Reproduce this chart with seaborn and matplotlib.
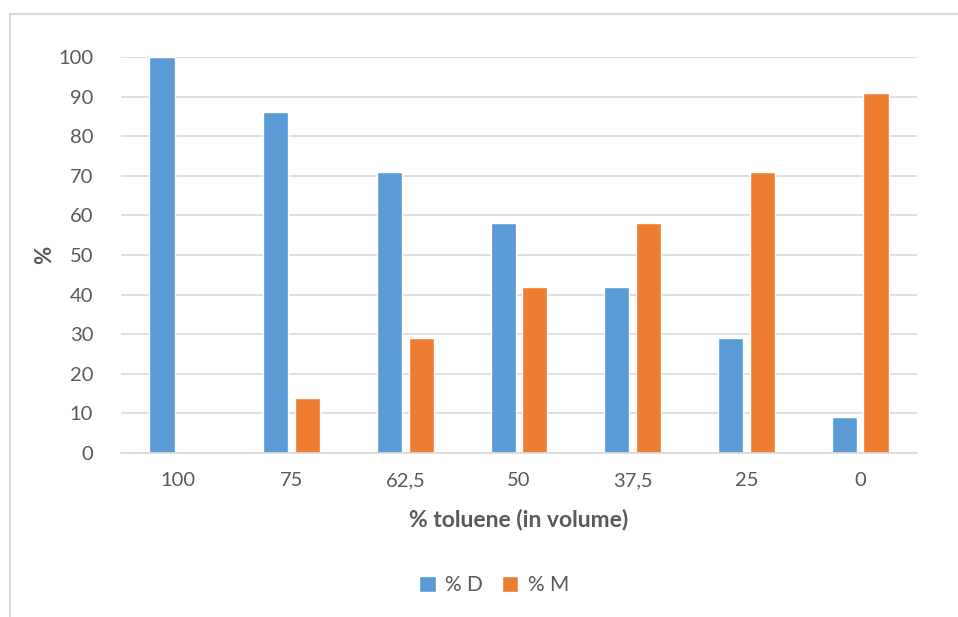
import matplotlib
matplotlib.use("Agg")
import matplotlib.pyplot as plt
from matplotlib.lines import Line2D
from matplotlib.patches import Patch
import seaborn as sns
import pandas as pd

categories = ["100", "75", "62,5", "50", "37,5", "25", "0"]
pct_d = [100, 86, 71, 58, 42, 29, 9]
pct_m = [0, 14, 29, 42, 58, 71, 91]
series_names = ["% D", "% M"]
y_ticks = [0, 10, 20, 30, 40, 50, 60, 70, 80, 90, 100]

BLUE = "#5B9BD5"
ORANGE = "#ED7D31"
GRID = "#D9D9D9"
TEXT = "#595959"

df = pd.DataFrame({
    "toluene": categories * 2,
    "value": pct_d + pct_m,
    "series": [series_names[0]] * len(categories) + [series_names[1]] * len(categories),
})

sns.set_theme(style="white")
plt.rcParams["font.family"] = ["Lato", "DejaVu Sans"]

fig = plt.figure(figsize=(9.58, 6.17), dpi=100)
ax = fig.add_axes([121 / 958, 1 - 453 / 617, (917 - 121) / 958, (453 - 57) / 617])

sns.barplot(data=df, x="toluene", y="value", hue="series", order=categories,
            palette=[BLUE, ORANGE], width=0.56, gap=0.21, ax=ax,
            legend=False, saturation=1, errorbar=None)

ax.set_ylim(0, 100)
ax.set_xlim(-0.5, len(categories) - 0.5)
ax.set_yticks(y_ticks)
ax.set_yticklabels([str(t) for t in y_ticks])
ax.yaxis.grid(True, color=GRID, linewidth=1.2)
ax.set_axisbelow(True)
for side in ["top", "right", "left"]:
    ax.spines[side].set_visible(False)
ax.spines["bottom"].set_color(GRID)
ax.spines["bottom"].set_linewidth(1.2)
ax.tick_params(axis="both", length=0, labelsize=14.5, colors=TEXT)
ax.tick_params(axis="y", pad=20)
ax.tick_params(axis="x", pad=14)

ax.set_xlabel("% toluene (in volume)", fontsize=16.5, fontweight="bold", color=TEXT, labelpad=14)
ax.set_ylabel("%", fontsize=16, fontweight="bold", color=TEXT, labelpad=2)

handles = [Patch(facecolor=BLUE), Patch(facecolor=ORANGE)]
fig.legend(handles, series_names, loc="center", bbox_to_anchor=(494 / 958, 1 - 585 / 617),
           ncol=2, frameon=False, fontsize=15, labelcolor=TEXT,
           handlelength=0.8, handleheight=0.8, handletextpad=0.45, columnspacing=0.9)

# chart-area frame
fig.add_artist(Line2D([10 / 958, 10 / 958], [0, 1 - 14 / 617], transform=fig.transFigure,
                      color=GRID, linewidth=1.5))
fig.add_artist(Line2D([10 / 958, 1], [1 - 14 / 617, 1 - 14 / 617], transform=fig.transFigure,
                      color=GRID, linewidth=1.5))

fig.savefig("out.png", dpi=100, facecolor="white")
